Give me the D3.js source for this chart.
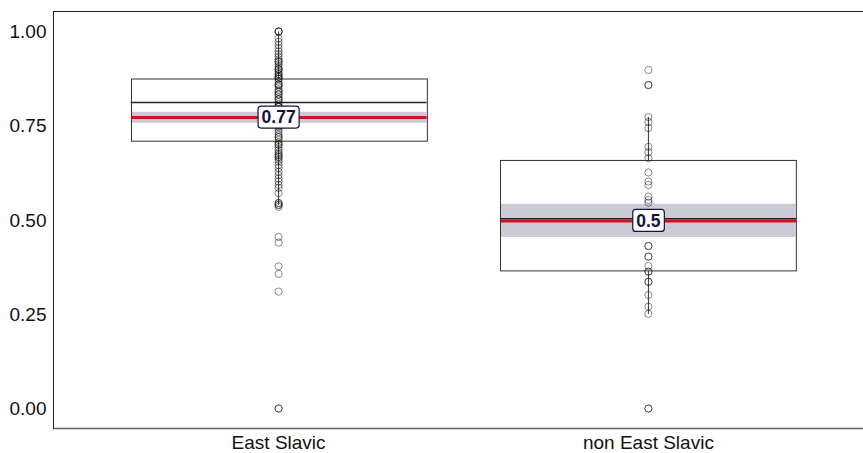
<!DOCTYPE html>
<html>
<head>
<meta charset="utf-8">
<script src="https://cdn.jsdelivr.net/npm/d3@7"></script>
<style>
  body { margin: 0; background: #fff; }
  svg { display: block; font-family: "Liberation Sans", Arial, sans-serif; }
</style>
</head>
<body>
<svg id="chart" width="863" height="453"></svg>
<script>
// ---- data ----
const categories = ["East Slavic", "non East Slavic"];
const q1 = [0.709, 0.365];
const median = [0.812, 0.503];
const q3 = [0.874, 0.658];
const meanVal = [0.773, 0.499];
const ciLow = [0.758, 0.455];
const ciHigh = [0.787, 0.543];
const whiskerLow = [0.54, 0.251];
const whiskerHigh = [1.0, 0.773];
const meanLabels = ["0.77", "0.5"];
const yTicks = [0, 0.25, 0.5, 0.75, 1.0];

const pointsEastSlavic = [1.0, 1.0, 1.0, 0.982, 0.973, 0.964, 0.955, 0.947, 0.94, 0.933, 0.926, 0.92, 0.92, 0.913,
  0.907, 0.9, 0.9, 0.9, 0.893, 0.887, 0.887, 0.88, 0.88, 0.875, 0.875, 0.867, 0.86, 0.86, 0.857, 0.853, 0.846, 0.84, 0.84, 0.833,
  0.833, 0.826, 0.82, 0.82, 0.813, 0.806, 0.8, 0.8, 0.8, 0.793, 0.786, 0.78, 0.773, 0.766, 0.76, 0.75, 0.75, 0.746, 0.74,
  0.733, 0.726, 0.72, 0.72, 0.713, 0.706, 0.7, 0.7, 0.693, 0.686, 0.68, 0.675, 0.672, 0.667, 0.667, 0.66, 0.655,
  0.646, 0.638, 0.628, 0.619, 0.61, 0.602, 0.593, 0.585, 0.571, 0.545, 0.545, 0.54, 0.54, 0.535,
  0.455, 0.44, 0.377, 0.357, 0.31, 0.0, 0.0];
const pointsNonEastSlavic = [0.898, 0.858, 0.858, 0.773, 0.76, 0.744, 0.694, 0.68, 0.664, 0.626, 0.602,
  0.593, 0.562, 0.553, 0.546, 0.431, 0.431, 0.403, 0.403, 0.378, 0.363, 0.363, 0.336, 0.336, 0.301,
  0.27, 0.251, 0.0, 0.0];
const pointSets = [pointsEastSlavic, pointsNonEastSlavic];

// ---- layout ----
(function () {
const svg = d3.select("#chart");
const pLeft = 53, pTop = 11, pBottom = 428, pRight = 874;

const x = d3.scaleBand().domain(categories).range([pLeft, pRight])
  .paddingInner(0.2).paddingOuter(0.21);
const y = d3.scaleLinear().domain([0, 1]).range([408.5, 31.5]);

// frame lines
svg.append("line").attr("x1", pLeft).attr("x2", 863).attr("y1", pTop + 0.5).attr("y2", pTop + 0.5)
  .attr("stroke", "#222").attr("stroke-width", 1);
svg.append("line").attr("x1", pLeft).attr("x2", 863).attr("y1", pBottom + 0.5).attr("y2", pBottom + 0.5)
  .attr("stroke", "#666").attr("stroke-width", 1.5);

// y axis
const yAxis = d3.axisLeft(y).tickValues(yTicks).tickFormat(d3.format(".2f")).tickSize(0).tickPadding(7);
const yg = svg.append("g").attr("transform", `translate(${pLeft + 0.5},0)`).call(yAxis);
yg.select(".domain").remove();
yg.selectAll("text").attr("font-size", 19).attr("fill", "#111")
  .attr("font-family", "Liberation Sans, Arial, sans-serif");
svg.append("line").attr("x1", pLeft + 0.5).attr("x2", pLeft + 0.5).attr("y1", pTop).attr("y2", pBottom + 1)
  .attr("stroke", "#222").attr("stroke-width", 1);

// x labels
svg.selectAll(".xlab").data(categories).join("text")
  .attr("x", d => x(d) + x.bandwidth() / 2).attr("y", 449)
  .attr("text-anchor", "middle").attr("font-size", 19).attr("fill", "#111")
  .text(d => d);

const g = svg.append("g");
categories.forEach((c, i) => {
  const x0 = x(c), bw = x.bandwidth(), cx = x0 + bw / 2;
  // box
  g.append("rect").attr("x", Math.round(x0) + 0.5).attr("y", y(q3[i]))
    .attr("width", bw).attr("height", y(q1[i]) - y(q3[i]))
    .attr("fill", "#fff").attr("stroke", "#333").attr("stroke-width", 1);
  // CI band
  g.append("rect").attr("x", Math.round(x0) + 1).attr("y", y(ciHigh[i]))
    .attr("width", bw - 1).attr("height", y(ciLow[i]) - y(ciHigh[i]))
    .attr("fill", "#cbcbd8");
  // median
  g.append("line").attr("x1", x0).attr("x2", x0 + bw).attr("y1", y(median[i])).attr("y2", y(median[i]))
    .attr("stroke", "#222").attr("stroke-width", 1.5);
  // mean
  g.append("line").attr("x1", x0 + 0.5).attr("x2", x0 + bw).attr("y1", y(meanVal[i]) + 0.5).attr("y2", y(meanVal[i]) + 0.5)
    .attr("stroke", "#d0101c").attr("stroke-width", 3);
  // whiskers
  g.append("line").attr("x1", cx).attr("x2", cx).attr("y1", y(q3[i])).attr("y2", y(whiskerHigh[i]))
    .attr("stroke", "#333").attr("stroke-width", 1);
  g.append("line").attr("x1", cx).attr("x2", cx).attr("y1", y(q1[i])).attr("y2", y(whiskerLow[i]))
    .attr("stroke", "#333").attr("stroke-width", 1);
  // points
  g.selectAll(null).data(pointSets[i]).join("circle")
    .attr("cx", cx).attr("cy", d => y(d)).attr("r", 3.6)
    .attr("fill", "none").attr("stroke", "#000").attr("stroke-opacity", 0.45).attr("stroke-width", 1);
  // label
  const lab = g.append("g").attr("transform", `translate(${cx},${y(meanVal[i])})`);
  const t = lab.append("text").attr("text-anchor", "middle").attr("dy", "0.36em")
    .attr("font-size", 17.5).attr("font-weight", "bold").attr("fill", "#14143c").text(meanLabels[i]);
  const bb = t.node().getBBox();
  lab.insert("rect", "text").attr("x", bb.x - 3.5).attr("y", -11).attr("width", bb.width + 7).attr("height", 22)
    .attr("rx", 3).attr("fill", "#fff").attr("stroke", "#14143c").attr("stroke-width", 1.2);
});
})();
</script>
</body>
</html>
